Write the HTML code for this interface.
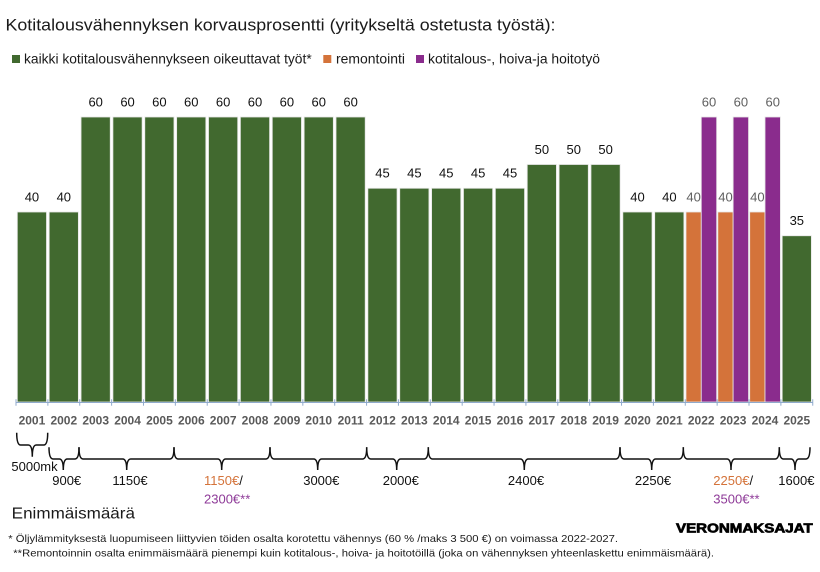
<!DOCTYPE html>
<html>
<head>
<meta charset="utf-8">
<style>
html,body{margin:0;padding:0;background:#fff;}
svg{display:block;}
text{font-family:"Liberation Sans", Arial, sans-serif;}
</style>
</head>
<body>
<svg width="820" height="572" viewBox="0 0 820 572" xmlns="http://www.w3.org/2000/svg">
<rect width="820" height="572" fill="#fff"/>

<!-- Title -->
<text x="5.5" y="30.7" font-size="17" fill="#1a1a1a" textLength="550" lengthAdjust="spacingAndGlyphs">Kotitalousvähennyksen korvausprosentti (yritykseltä ostetusta työstä):</text>

<!-- Legend -->
<rect x="12" y="55" width="8" height="8" fill="#41692F"/>
<text x="24" y="63.3" font-size="14" fill="#1a1a1a" textLength="287.7" lengthAdjust="spacingAndGlyphs">kaikki kotitalousvähennykseen oikeuttavat työt*</text>
<rect x="323.3" y="55" width="8" height="8" fill="#D4733A"/>
<text x="336" y="63.3" font-size="14" fill="#1a1a1a" textLength="69" lengthAdjust="spacingAndGlyphs">remontointi</text>
<rect x="416" y="55" width="8" height="8" fill="#8A2C8D"/>
<text x="428" y="63.3" font-size="14" fill="#1a1a1a" textLength="172" lengthAdjust="spacingAndGlyphs">kotitalous-, hoiva-ja hoitotyö</text>

<!-- Bars -->
<g stroke="#e6e6e6" stroke-width="0.8">
<g fill="#41692F">
<rect x="17.3" y="212" width="29.2" height="190"/>
<rect x="49.17" y="212" width="29.2" height="190"/>
<rect x="81.04" y="117" width="29.2" height="285"/>
<rect x="112.91" y="117" width="29.2" height="285"/>
<rect x="144.78" y="117" width="29.2" height="285"/>
<rect x="176.65" y="117" width="29.2" height="285"/>
<rect x="208.52" y="117" width="29.2" height="285"/>
<rect x="240.39" y="117" width="29.2" height="285"/>
<rect x="272.26" y="117" width="29.2" height="285"/>
<rect x="304.13" y="117" width="29.2" height="285"/>
<rect x="336.0" y="117" width="29.2" height="285"/>
<rect x="367.87" y="188.25" width="29.2" height="213.75"/>
<rect x="399.74" y="188.25" width="29.2" height="213.75"/>
<rect x="431.61" y="188.25" width="29.2" height="213.75"/>
<rect x="463.48" y="188.25" width="29.2" height="213.75"/>
<rect x="495.35" y="188.25" width="29.2" height="213.75"/>
<rect x="527.22" y="164.5" width="29.2" height="237.5"/>
<rect x="559.09" y="164.5" width="29.2" height="237.5"/>
<rect x="590.96" y="164.5" width="29.2" height="237.5"/>
<rect x="622.83" y="212" width="29.2" height="190"/>
<rect x="654.7" y="212" width="29.2" height="190"/>
<rect x="782.18" y="235.75" width="29.2" height="166.25"/>
</g>
<g fill="#D4733A">
<rect x="685.97" y="212" width="15.3" height="190"/>
<rect x="717.84" y="212" width="15.3" height="190"/>
<rect x="749.71" y="212" width="15.3" height="190"/>
</g>
<g fill="#8A2C8D">
<rect x="701.27" y="117" width="15.4" height="285"/>
<rect x="733.14" y="117" width="15.4" height="285"/>
<rect x="765.01" y="117" width="15.4" height="285"/>
</g>
</g>

<!-- Data labels -->
<g font-size="13" fill="#111" text-anchor="middle">
<text x="31.94" y="201.4">40</text>
<text x="63.81" y="201.4">40</text>
<text x="95.68" y="106.4">60</text>
<text x="127.55" y="106.4">60</text>
<text x="159.42" y="106.4">60</text>
<text x="191.29" y="106.4">60</text>
<text x="223.16" y="106.4">60</text>
<text x="255.03" y="106.4">60</text>
<text x="286.9" y="106.4">60</text>
<text x="318.77" y="106.4">60</text>
<text x="350.64" y="106.4">60</text>
<text x="382.51" y="177.65">45</text>
<text x="414.38" y="177.65">45</text>
<text x="446.25" y="177.65">45</text>
<text x="478.12" y="177.65">45</text>
<text x="509.99" y="177.65">45</text>
<text x="541.86" y="153.9">50</text>
<text x="573.73" y="153.9">50</text>
<text x="605.6" y="153.9">50</text>
<text x="637.47" y="201.4">40</text>
<text x="669.34" y="201.4">40</text>
<text x="796.82" y="225.15">35</text>
</g>
<g font-size="13" fill="#5f5f5f" text-anchor="middle">
<text x="693.6" y="201.4">40</text>
<text x="725.5" y="201.4">40</text>
<text x="757.4" y="201.4">40</text>
<text x="708.97" y="106.4">60</text>
<text x="740.84" y="106.4">60</text>
<text x="772.71" y="106.4">60</text>
</g>

<!-- Axis -->
<line x1="16" y1="402.5" x2="812.75" y2="402.5" stroke="#8FAACC" stroke-width="1"/>
<g stroke="#8FAACC" stroke-width="1">
<line x1="16" y1="399.3" x2="16" y2="405.7"/>
<line x1="47.87" y1="399.3" x2="47.87" y2="405.7"/>
<line x1="79.74" y1="399.3" x2="79.74" y2="405.7"/>
<line x1="111.61" y1="399.3" x2="111.61" y2="405.7"/>
<line x1="143.48" y1="399.3" x2="143.48" y2="405.7"/>
<line x1="175.35" y1="399.3" x2="175.35" y2="405.7"/>
<line x1="207.22" y1="399.3" x2="207.22" y2="405.7"/>
<line x1="239.09" y1="399.3" x2="239.09" y2="405.7"/>
<line x1="270.96" y1="399.3" x2="270.96" y2="405.7"/>
<line x1="302.83" y1="399.3" x2="302.83" y2="405.7"/>
<line x1="334.7" y1="399.3" x2="334.7" y2="405.7"/>
<line x1="366.57" y1="399.3" x2="366.57" y2="405.7"/>
<line x1="398.44" y1="399.3" x2="398.44" y2="405.7"/>
<line x1="430.31" y1="399.3" x2="430.31" y2="405.7"/>
<line x1="462.18" y1="399.3" x2="462.18" y2="405.7"/>
<line x1="494.05" y1="399.3" x2="494.05" y2="405.7"/>
<line x1="525.92" y1="399.3" x2="525.92" y2="405.7"/>
<line x1="557.79" y1="399.3" x2="557.79" y2="405.7"/>
<line x1="589.66" y1="399.3" x2="589.66" y2="405.7"/>
<line x1="621.53" y1="399.3" x2="621.53" y2="405.7"/>
<line x1="653.4" y1="399.3" x2="653.4" y2="405.7"/>
<line x1="685.27" y1="399.3" x2="685.27" y2="405.7"/>
<line x1="717.14" y1="399.3" x2="717.14" y2="405.7"/>
<line x1="749.01" y1="399.3" x2="749.01" y2="405.7"/>
<line x1="780.88" y1="399.3" x2="780.88" y2="405.7"/>
<line x1="812.75" y1="399.3" x2="812.75" y2="405.7"/>
</g>

<!-- Year labels -->
<g font-size="12" font-weight="bold" fill="#595959" text-anchor="middle">
<text x="31.94" y="424.3">2001</text>
<text x="63.81" y="424.3">2002</text>
<text x="95.68" y="424.3">2003</text>
<text x="127.55" y="424.3">2004</text>
<text x="159.42" y="424.3">2005</text>
<text x="191.29" y="424.3">2006</text>
<text x="223.16" y="424.3">2007</text>
<text x="255.03" y="424.3">2008</text>
<text x="286.9" y="424.3">2009</text>
<text x="318.77" y="424.3">2010</text>
<text x="350.64" y="424.3">2011</text>
<text x="382.51" y="424.3">2012</text>
<text x="414.38" y="424.3">2013</text>
<text x="446.25" y="424.3">2014</text>
<text x="478.12" y="424.3">2015</text>
<text x="509.99" y="424.3">2016</text>
<text x="541.86" y="424.3">2017</text>
<text x="573.73" y="424.3">2018</text>
<text x="605.6" y="424.3">2019</text>
<text x="637.47" y="424.3">2020</text>
<text x="669.34" y="424.3">2021</text>
<text x="701.21" y="424.3">2022</text>
<text x="733.08" y="424.3">2023</text>
<text x="764.95" y="424.3">2024</text>
<text x="796.82" y="424.3">2025</text>
</g>

<!-- Braces -->
<g fill="none" stroke="#111" stroke-width="1.5">
<path d="M16.7 432.7 Q16.7 445 20.7 445 L28.3 445 Q32.3 445 32.3 456.7 Q32.3 445 36.3 445 L43.7 445 Q47.7 445 47.7 432.7"/>
<path d="M49 447.3 Q49 459 53 459 L59.3 459 Q63.3 459 63.3 470 Q63.3 459 67.3 459 L75 459 Q79 459 79 447.3"/>
<path d="M79 447.3 Q79 459 83 459 L122.7 459 Q126.7 459 126.7 470 Q126.7 459 130.7 459 L170 459 Q174 459 174 447.3"/>
<path d="M174 447.3 Q174 459 178 459 L217.7 459 Q221.7 459 221.7 470 Q221.7 459 225.7 459 L266 459 Q270 459 270 447.3"/>
<path d="M270 447.3 Q270 459 274 459 L313.7 459 Q317.7 459 317.7 470 Q317.7 459 321.7 459 L362.7 459 Q366.7 459 366.7 447.3"/>
<path d="M366.7 447.3 Q366.7 459 370.7 459 L392.7 459 Q396.7 459 396.7 470 Q396.7 459 400.7 459 L424.3 459 Q428.3 459 428.3 447.3"/>
<path d="M428.3 447.3 Q428.3 459 432.3 459 L520.3 459 Q524.3 459 524.3 470 Q524.3 459 528.3 459 L616 459 Q620 459 620 447.3"/>
<path d="M620 447.3 Q620 459 624 459 L647.7 459 Q651.7 459 651.7 470 Q651.7 459 655.7 459 L679.3 459 Q683.3 459 683.3 447.3"/>
<path d="M683.3 447.3 Q683.3 459 687.3 459 L727 459 Q731 459 731 470 Q731 459 735 459 L775.3 459 Q779.3 459 779.3 447.3"/>
<path d="M779.3 447.3 Q779.3 459 783.3 459 L791 459 Q795 459 795 470 Q795 459 799 459 L806 459 Q810 459 810 447.3"/>
</g>

<!-- Brace labels -->
<g font-size="13" fill="#111">
<text x="34.5" y="471" text-anchor="middle">5000mk</text>
<text x="66.7" y="485" text-anchor="middle">900€</text>
<text x="130" y="485" text-anchor="middle">1150€</text>
<text x="204" y="485"><tspan fill="#D4733A">1150€</tspan>/</text>
<text x="204" y="503.3" fill="#8E3A98">2300€**</text>
<text x="321.3" y="485" text-anchor="middle">3000€</text>
<text x="400.8" y="485" text-anchor="middle">2000€</text>
<text x="526" y="485" text-anchor="middle">2400€</text>
<text x="653" y="485" text-anchor="middle">2250€</text>
<text x="713.3" y="485"><tspan fill="#D4733A">2250€</tspan>/</text>
<text x="713.3" y="503.3" fill="#8E3A98">3500€**</text>
<text x="778.3" y="485">1600€</text>
</g>

<!-- Bottom -->
<text x="11.7" y="518.3" font-size="16" fill="#1a1a1a" textLength="123.3" lengthAdjust="spacingAndGlyphs">Enimmäismäärä</text>
<text x="676" y="532.3" font-size="13" font-weight="bold" fill="#000" stroke="#000" stroke-width="0.7" textLength="136.7" lengthAdjust="spacingAndGlyphs">VERONMAKSAJAT</text>
<text x="8.3" y="542" font-size="10.5" fill="#1a1a1a" textLength="609.7" lengthAdjust="spacingAndGlyphs">* Öljylämmityksestä  luopumiseen liittyvien töiden osalta korotettu vähennys (60 % /maks 3 500 €) on voimassa 2022-2027.</text>
<text x="13.3" y="556.5" font-size="10.5" fill="#1a1a1a" textLength="700.7" lengthAdjust="spacingAndGlyphs">**Remontoinnin osalta enimmäismäärä pienempi kuin kotitalous-, hoiva- ja hoitotöillä (joka on vähennyksen yhteenlaskettu enimmäismäärä).</text>
</svg>
</body>
</html>
